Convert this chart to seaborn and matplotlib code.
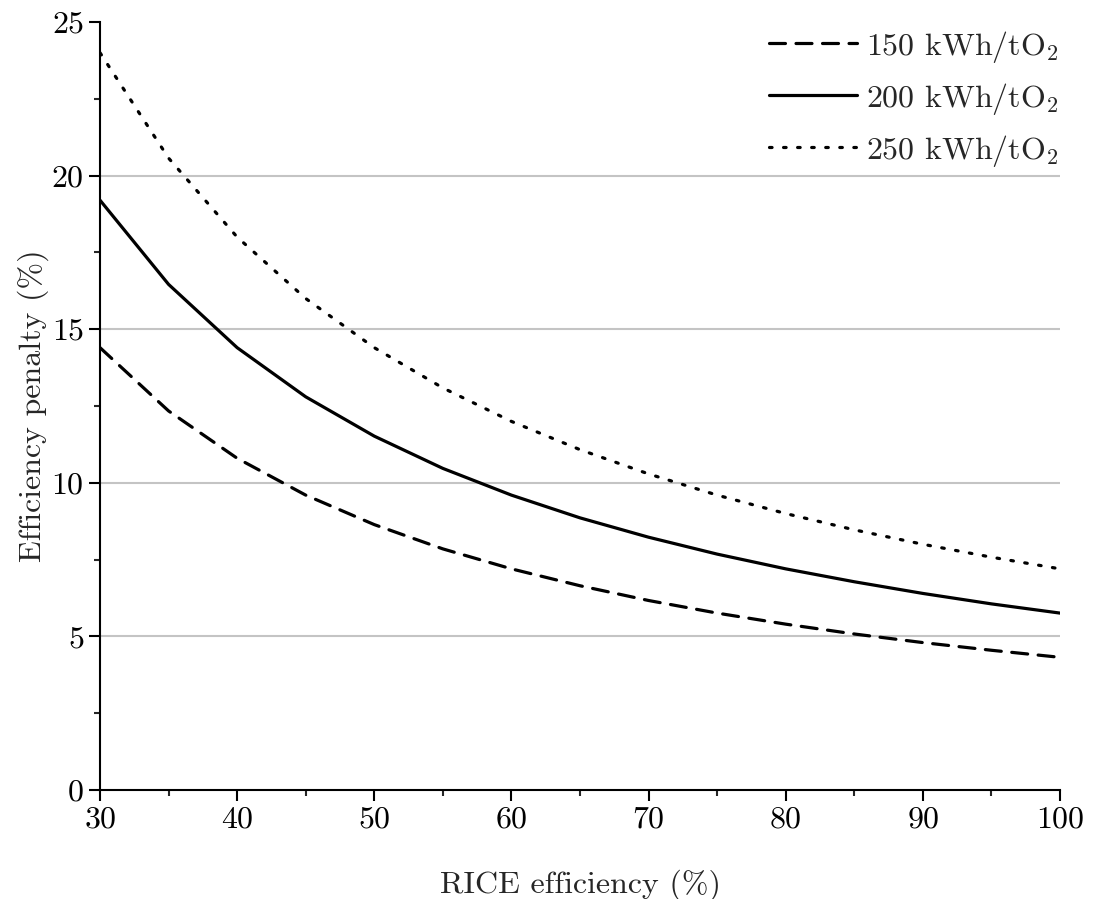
import numpy as np
import pandas as pd
import seaborn as sns
import matplotlib
matplotlib.use("Agg")
import matplotlib.pyplot as plt
from matplotlib.ticker import MultipleLocator

# RICE efficiency (%) and efficiency penalty (%)
rice_eff = [30, 35, 40, 45, 50, 55, 60, 65, 70, 75, 80, 85, 90, 95, 100]
pen_150 = [14.4, 12.34, 10.8, 9.6, 8.64, 7.85, 7.2, 6.65, 6.17, 5.76, 5.4, 5.08, 4.8, 4.55, 4.32]
pen_200 = [19.2, 16.46, 14.4, 12.8, 11.52, 10.47, 9.6, 8.86, 8.23, 7.68, 7.2, 6.78, 6.4, 6.06, 5.76]
pen_250 = [24.0, 20.57, 18.0, 16.0, 14.4, 13.09, 12.0, 11.08, 10.29, 9.6, 9.0, 8.47, 8.0, 7.58, 7.2]
labels = [r"150 kWh/tO$_2$", r"200 kWh/tO$_2$", r"250 kWh/tO$_2$"]

sns.set_style("ticks")
plt.rcParams["font.family"] = "serif"
plt.rcParams["font.serif"] = ["cmr10"]
plt.rcParams["mathtext.fontset"] = "cm"
plt.rcParams["axes.formatter.use_mathtext"] = True

fig = plt.figure(figsize=(10.93, 8.99), dpi=100)
ax = fig.add_axes([0.0915, 0.1212, 0.8783, 0.8543])

styles = [(0, (5, 3.3)), "-", (0, (0.8, 3.6))]
for vals, lab, ls in zip([pen_150, pen_200, pen_250], labels, styles):
    df = pd.DataFrame({"x": rice_eff, "y": vals})
    sns.lineplot(data=df, x="x", y="y", ax=ax, color="black", lw=2.3,
                 linestyle=ls, label=lab, dash_capstyle="round")

ax.set_xlim(30, 100)
ax.set_ylim(0, 25)
ax.xaxis.set_major_locator(MultipleLocator(10))
ax.xaxis.set_minor_locator(MultipleLocator(5))
ax.yaxis.set_major_locator(MultipleLocator(5))
ax.yaxis.set_minor_locator(MultipleLocator(2.5))
ax.grid(axis="y", which="major", color="#c4c4c4", lw=1.5)
ax.set_axisbelow(True)
for s in ["top", "right"]:
    ax.spines[s].set_visible(False)
for s in ["left", "bottom"]:
    ax.spines[s].set_linewidth(1.5)
    ax.spines[s].set_color("black")
ax.tick_params(which="major", length=8, width=1.5, labelsize=23, colors="black", direction="out")
ax.tick_params(which="minor", length=4, width=1.5, direction="out")

ax.set_xlabel("RICE efficiency (%)", fontsize=23, labelpad=26)
ax.set_ylabel("Efficiency penalty (%)", fontsize=23, labelpad=2)

leg = ax.legend(loc="upper right", frameon=False, fontsize=23, handlelength=2.75,
                handletextpad=0.3, labelspacing=0.5, borderaxespad=0.0,
                bbox_to_anchor=(1.012, 1.008))
for h in leg.get_lines():
    h.set_linewidth(2.3)

fig.canvas.draw()
for tick in ax.yaxis.get_major_ticks():
    if tick.get_loc() in (0, 25):
        tick.gridline.set_visible(False)

fig.savefig("out.png", dpi=100)
